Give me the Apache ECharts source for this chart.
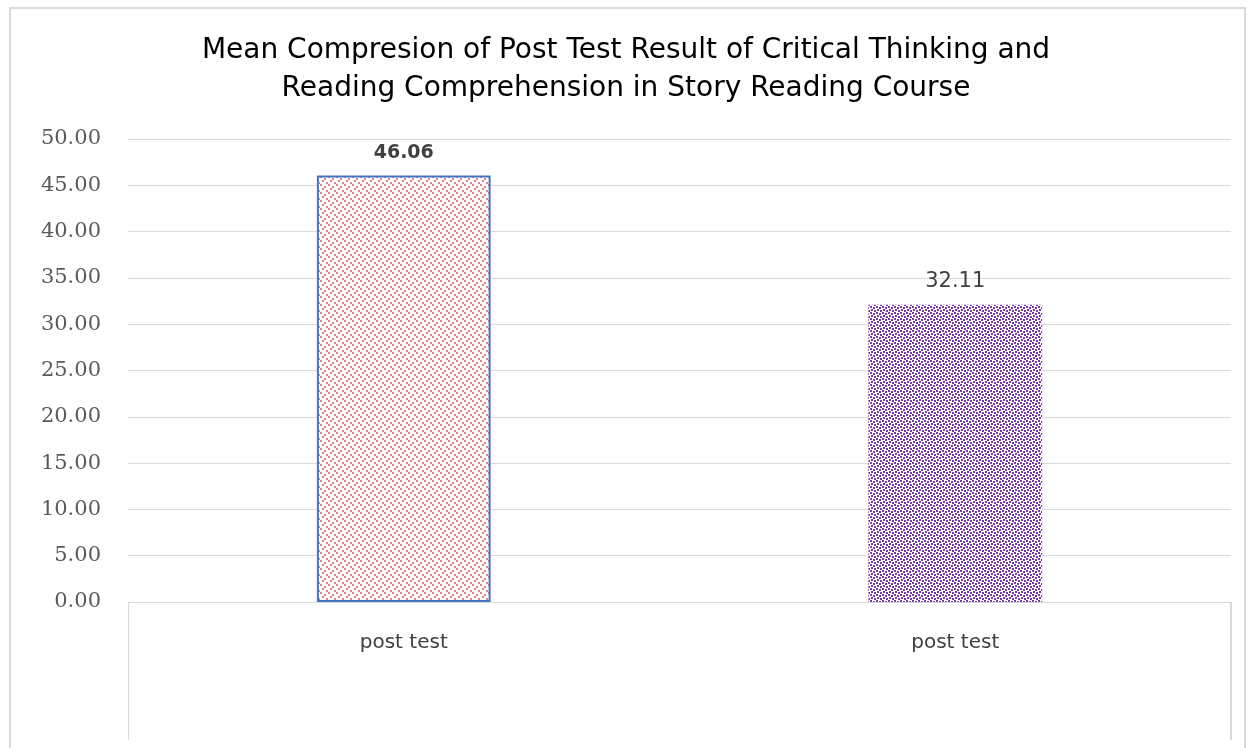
<!DOCTYPE html>
<html>
<head>
<meta charset="utf-8">
<script src="https://cdn.jsdelivr.net/npm/echarts@6/dist/echarts.min.js"></script>
<style>
html,body{margin:0;padding:0;background:#fff;}
#main{width:1252px;height:748px;}
</style>
</head>
<body>
<div id="main"></div>
<script>
const titleText = 'Mean Compresion of Post Test Result of Critical Thinking and\nReading Comprehension in Story Reading Course';
const categories = ['post test', 'post test'];
const values = [46.06, 32.11];
const yTicks = { min: 0, max: 50, interval: 5 };

function dotPattern(color, step, r) {
  const c = document.createElement('canvas');
  c.width = step * 2; c.height = step * 2;
  const g = c.getContext('2d');
  g.fillStyle = '#ffffff';
  g.fillRect(0, 0, c.width, c.height);
  g.fillStyle = color;
  const h = Math.floor(step / 2);
  const pts = [[0, 0], [step, h], [h, step], [step + h, step + h]];
  pts.forEach(p => { g.fillRect(p[0], p[1], r, r); });
  return c;
}

const chart = echarts.init(document.getElementById('main'), null, { renderer: 'canvas' });
const fills = [
  { image: dotPattern('#e38585', 4, 2), repeat: 'repeat' },
  { image: dotPattern('#7a3aae', 3, 2), repeat: 'repeat' }
];

chart.setOption({
  backgroundColor: '#ffffff',
  animation: false,
  title: {
    text: titleText,
    left: 'center',
    top: 27,
    textStyle: { fontFamily: 'DejaVu Sans', fontSize: 28, fontWeight: 'normal', color: '#000', lineHeight: 38 }
  },
  grid: { left: 128, right: 21, top: 139, bottom: 146 },
  xAxis: {
    type: 'category',
    data: categories,
    axisLine: { show: true, lineStyle: { color: '#d9d9d9', width: 1 } },
    axisTick: { show: false },
    axisLabel: { fontFamily: 'DejaVu Sans', fontSize: 20, color: '#404040', margin: 31 }
  },
  yAxis: {
    type: 'value',
    min: yTicks.min, max: yTicks.max, interval: yTicks.interval,
    axisLine: { show: false },
    axisTick: { show: false },
    splitLine: { lineStyle: { color: '#d9d9d9', width: 1 } },
    axisLabel: { fontFamily: 'DejaVu Serif', fontSize: 21, color: '#595959', margin: 27, formatter: v => v.toFixed(2) }
  },
  series: [{
    type: 'bar',
    barWidth: '31.5%',
    data: values.map((v, i) => ({
      value: v,
      itemStyle: i === 0
        ? { color: fills[0], borderColor: '#4472c4', borderWidth: 2 }
        : { color: fills[1], borderWidth: 0 },
      label: {
        show: true, position: 'top', distance: 13,
        fontFamily: 'DejaVu Sans', fontSize: i === 0 ? 19 : 21, color: '#404040',
        fontWeight: i === 0 ? 'bold' : 'normal',
        formatter: p => p.value.toFixed(2)
      }
    }))
  }],
  graphic: [
    { type: 'rect', shape: { x: 10, y: 8, width: 1235, height: 760 }, style: { fill: 'none', stroke: '#d9d9d9', lineWidth: 2 }, silent: true },
    { type: 'line', shape: { x1: 128.5, y1: 602, x2: 128.5, y2: 740 }, style: { stroke: '#d9d9d9', lineWidth: 1 }, silent: true },
    { type: 'line', shape: { x1: 1231, y1: 602, x2: 1231, y2: 740 }, style: { stroke: '#d9d9d9', lineWidth: 2 }, silent: true }
  ]
});
</script>
</body>
</html>
